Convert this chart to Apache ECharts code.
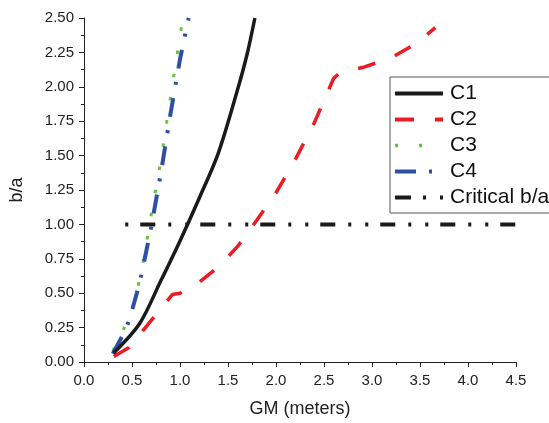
<!DOCTYPE html>
<html>
<head>
<meta charset="utf-8">
<script src="https://cdn.jsdelivr.net/npm/echarts@6/dist/echarts.min.js"></script>
<style>
  html, body { margin: 0; padding: 0; background: #fff; }
  #chart { width: 549px; height: 423px; }
</style>
</head>
<body>
<div id="chart"></div>
<script>
// ---- data ----
const seriesNames = ['C1', 'C2', 'C3', 'C4', 'Critical b/a'];
const xTickLabels = ['0.0', '0.5', '1.0', '1.5', '2.0', '2.5', '3.0', '3.5', '4.0', '4.5'];
const yTickLabels = ['0.00', '0.25', '0.50', '0.75', '1.00', '1.25', '1.50', '1.75', '2.00', '2.25', '2.50'];

const c1 = [[0.31, 0.066], [0.58, 0.28], [0.8, 0.59], [1.0, 0.88], [1.2, 1.19], [1.4, 1.52], [1.6, 1.98], [1.7, 2.24], [1.78, 2.5]];
const c2 = [[0.31, 0.04], [0.47, 0.105], [0.92, 0.49], [1.0, 0.50], [1.2, 0.58], [1.4, 0.69], [1.6, 0.84], [1.8, 1.03], [2.0, 1.23], [2.2, 1.47], [2.4, 1.74], [2.6, 2.06], [2.66, 2.1], [2.9, 2.14], [3.2, 2.21], [3.45, 2.31], [3.66, 2.43]];
const c3 = [[0.3, 0.08], [0.4, 0.22], [0.5, 0.37], [0.6, 0.66], [0.7, 1.07], [0.8, 1.46], [0.9, 1.92], [1.0, 2.37], [1.03, 2.5]];
const c4 = [[0.3, 0.06], [0.4, 0.19], [0.47, 0.3], [0.55, 0.5], [0.6, 0.64], [0.7, 0.98], [0.8, 1.37], [0.9, 1.8], [1.0, 2.2], [1.09, 2.5]];
const critical = [[0.43, 1.0], [4.5, 1.0]];

const FONT = 'Liberation Sans, Arial, sans-serif';
const chart = echarts.init(document.getElementById('chart'), null, { renderer: 'canvas' });

const axisCommon = {
  axisLine: { show: true, onZero: false, lineStyle: { color: '#222', width: 1 } },
  axisTick: { show: true, inside: false, length: 5, lineStyle: { color: '#222', width: 1 } },
  minorTick: { show: true, splitNumber: 2, length: 3, lineStyle: { color: '#222', width: 1 } },
  splitLine: { show: false },
  nameTextStyle: { fontFamily: FONT, fontSize: 18, color: '#222' }
};

chart.setOption({
  animation: false,
  backgroundColor: '#fff',
  grid: { left: 82.7, right: 33, top: 18, bottom: 55.5, containLabel: false },
  xAxis: Object.assign({}, axisCommon, {
    type: 'value', min: 0, max: 4.5, interval: 0.5,
    name: 'GM (meters)', nameLocation: 'middle', nameGap: 38,
    axisLabel: { margin: 11, fontFamily: FONT, fontSize: 15, color: '#222',
      formatter: v => xTickLabels[Math.round(v / 0.5)] }
  }),
  yAxis: Object.assign({}, axisCommon, {
    type: 'value', min: 0, max: 2.5, interval: 0.25,
    name: 'b/a', nameLocation: 'middle', nameGap: 58, nameRotate: 90,
    axisLabel: { margin: 10, fontFamily: FONT, fontSize: 15, color: '#222',
      formatter: v => yTickLabels[Math.round(v / 0.25)] }
  }),
  legend: {
    left: 390, top: 77, orient: 'vertical',
    itemWidth: 48, itemHeight: 14, itemGap: 5,
    padding: [6, 10, 5, 3],
    backgroundColor: '#fff', borderColor: '#555', borderWidth: 1, borderRadius: 0,
    itemStyle: { color: 'transparent', borderColor: 'transparent', borderWidth: 0, opacity: 0 },
    textStyle: { fontFamily: FONT, fontSize: 21, color: '#111', padding: [0, 0, 0, 2] },
    data: [
      { name: 'C1', lineStyle: { width: 4 } },
      { name: 'C2', lineStyle: { width: 4, type: [19, 21] } },
      { name: 'C3', lineStyle: { width: 3.5, type: [3, 21] } },
      { name: 'C4', lineStyle: { width: 4, type: [21, 13, 3, 13] } },
      { name: 'Critical b/a', lineStyle: { width: 4, type: [16, 12, 3, 14, 3, 12] } }
    ]
  },
  series: [
    { name: seriesNames[0], type: 'line', data: c1, showSymbol: false, symbol: 'none',
      smooth: 0.3, color: '#1a1a1a',
      lineStyle: { color: '#1a1a1a', width: 3.5, type: 'solid' }, z: 5 },
    { name: seriesNames[1], type: 'line', data: c2, showSymbol: false, symbol: 'none',
      color: '#ed1c24',
      lineStyle: { color: '#ed1c24', width: 3.5, type: [18, 21], cap: 'butt' }, z: 4 },
    { name: seriesNames[2], type: 'line', data: c3, showSymbol: false, symbol: 'none',
      color: '#6cbf45',
      lineStyle: { color: '#6cbf45', width: 3, type: [3.5, 20], cap: 'butt' }, z: 3 },
    { name: seriesNames[3], type: 'line', data: c4, showSymbol: false, symbol: 'none',
      color: '#2f4fa6',
      lineStyle: { color: '#2f4fa6', width: 4, type: [19, 13.5, 3, 13.5], cap: 'butt' }, z: 3 },
    { name: seriesNames[4], type: 'line', data: critical, showSymbol: false, symbol: 'none',
      color: '#1a1a1a',
      lineStyle: { color: '#1a1a1a', width: 4, type: [3, 12, 15, 13, 3, 14], cap: 'butt' }, z: 2 }
  ]
});
</script>
</body>
</html>
